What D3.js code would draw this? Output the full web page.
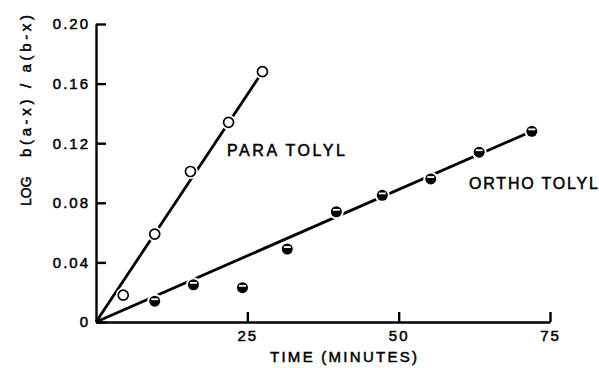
<!DOCTYPE html>
<html>
<head>
<meta charset="utf-8">
<script src="https://cdn.jsdelivr.net/npm/d3@7"></script>
<style>
  body { margin: 0; background: white; }
  text { font-family: "Liberation Sans", Arial, sans-serif; fill: black; stroke: black; stroke-width: 0.5px; }
</style>
</head>
<body>
<div id="container"></div>
<script>
let w = 599;
let h = 368;

// data
let paraTime = [4.5, 9.7, 15.6, 21.9, 27.5];
let paraValue = [0.018, 0.059, 0.101, 0.134, 0.168];
let orthoTime = [9.7, 16.1, 24.2, 31.6, 39.7, 47.3, 55.3, 63.3, 72.0];
let orthoValue = [0.014, 0.025, 0.023, 0.049, 0.074, 0.085, 0.096, 0.114, 0.128];
// fitted straight lines (start, end)
let paraFit = [[0, 0], [27.5, 0.168]];
let orthoFit = [[0, 0], [72, 0.128]];
let yTicks = [0, 0.04, 0.08, 0.12, 0.16, 0.20];
let yTickLabels = ["0", "0.04", "0.08", "0.12", "0.16", "0.20"];
let xTicks = [25, 50, 75];

let viz = d3.select("#container").append("svg")
    .attr("width", w)
    .attr("height", h)
    .style("background-color", "white");

let x = d3.scaleLinear().domain([0, 75]).range([96, 550]);
let y = d3.scaleLinear().domain([0, 0.20]).range([322, 24]);

// axes, ticks pointing inward
let yAxis = d3.axisLeft(y)
    .tickValues(yTicks)
    .tickFormat((d, i) => yTickLabels[i])
    .tickSizeInner(-10)
    .tickSizeOuter(0)
    .tickPadding(6);
let xAxis = d3.axisBottom(x)
    .tickValues(xTicks)
    .tickSizeInner(-10)
    .tickSizeOuter(0)
    .tickPadding(8);

let gy = viz.append("g").attr("transform", "translate(" + x(0) + ",0)").call(yAxis);
let gx = viz.append("g").attr("transform", "translate(0," + y(0) + ")").call(xAxis);
[gy, gx].forEach(function(g){
  g.select(".domain").attr("stroke", "black").attr("stroke-width", 2.4);
  g.selectAll(".tick line").attr("stroke", "black").attr("stroke-width", 2.4);
  g.selectAll(".tick text")
    .style("font-size", "15px")
    .style("letter-spacing", "2px")
    .attr("fill", "black");
});

// axis titles
viz.append("text")
    .attr("x", 270).attr("y", 362)
    .attr("textLength", 147).attr("lengthAdjust", "spacing")
    .style("font-size", "15px")
    .text("TIME (MINUTES)");

viz.append("text")
    .attr("transform", "translate(31,206) rotate(-90)")
    .style("font-size", "14px")
    .text("LOG");
viz.append("text")
    .attr("transform", "translate(31,157) rotate(-90)")
    .attr("textLength", 142).attr("lengthAdjust", "spacing")
    .style("font-size", "15px")
    .text("b(a-x) / a(b-x)");

// fit lines
let lineMaker = d3.line().x(d => x(d[0])).y(d => y(d[1]));
[paraFit, orthoFit].forEach(function(f){
  viz.append("path")
    .attr("d", lineMaker(f))
    .attr("stroke", "black")
    .attr("stroke-width", 2.8)
    .attr("fill", "none");
});

// white halo behind markers to open the line
let para = paraTime.map((t, i) => [t, paraValue[i]]);
let ortho = orthoTime.map((t, i) => [t, orthoValue[i]]);

viz.selectAll(".halo").data(para.concat(ortho)).enter()
  .append("circle")
    .attr("class", "halo")
    .attr("cx", d => x(d[0]))
    .attr("cy", d => y(d[1]))
    .attr("r", 7.5)
    .attr("fill", "white");

// para: open circles
viz.selectAll(".para").data(para).enter()
  .append("circle")
    .attr("class", "para")
    .attr("cx", d => x(d[0]))
    .attr("cy", d => y(d[1]))
    .attr("r", 5)
    .attr("fill", "white")
    .attr("stroke", "black")
    .attr("stroke-width", 1.7);

// ortho: dark circles with a light band
viz.selectAll(".ortho").data(ortho).enter()
  .append("circle")
    .attr("class", "ortho")
    .attr("cx", d => x(d[0]))
    .attr("cy", d => y(d[1]))
    .attr("r", 5.5)
    .attr("fill", "black");
viz.selectAll(".band").data(ortho).enter()
  .append("rect")
    .attr("class", "band")
    .attr("x", d => x(d[0]) - 3.5)
    .attr("y", d => y(d[1]) - 2.8)
    .attr("width", 7)
    .attr("height", 1.8)
    .attr("fill", "white");

// series labels
viz.append("text")
    .attr("x", 227).attr("y", 156)
    .attr("textLength", 118).attr("lengthAdjust", "spacing")
    .style("font-size", "16px")
    .text("PARA TOLYL");
viz.append("text")
    .attr("x", 469).attr("y", 189)
    .attr("textLength", 129).attr("lengthAdjust", "spacing")
    .style("font-size", "16px")
    .text("ORTHO TOLYL");
</script>
</body>
</html>
